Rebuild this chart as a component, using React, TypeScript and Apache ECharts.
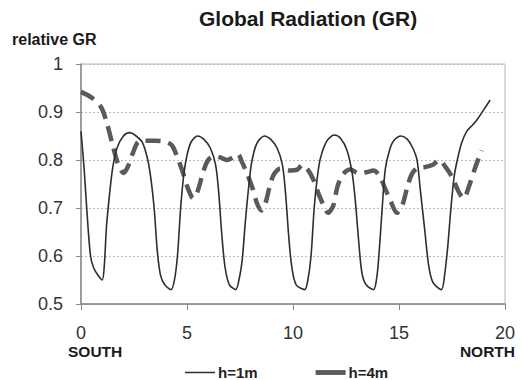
import React, { useEffect, useRef } from "react";
import * as echarts from "echarts";

const titleText = "Global Radiation (GR)";
const yAxisTitle = "relative GR";
const xStartLabel = "SOUTH";
const xEndLabel = "NORTH";
const seriesNames = ["h=1m", "h=4m"];

const h1m: [number, number][] = [
  [0, 0.86], [0.15, 0.78], [0.3, 0.68], [0.45, 0.6], [0.6, 0.575], [0.8, 0.56], [1.0, 0.55],
  [1.1, 0.58], [1.2, 0.66], [1.35, 0.73], [1.5, 0.785], [1.7, 0.825], [2.0, 0.85], [2.3, 0.857],
  [2.6, 0.85], [2.9, 0.836], [3.15, 0.8], [3.3, 0.76], [3.45, 0.7], [3.6, 0.61], [3.75, 0.56],
  [3.95, 0.54], [4.25, 0.53], [4.4, 0.548], [4.55, 0.6], [4.7, 0.7], [4.85, 0.77], [5.0, 0.81],
  [5.2, 0.838], [5.5, 0.85], [5.8, 0.843], [6.1, 0.825], [6.35, 0.79], [6.5, 0.73], [6.65, 0.64],
  [6.8, 0.575], [7.0, 0.54], [7.3, 0.53], [7.45, 0.55], [7.6, 0.59], [7.75, 0.67], [7.9, 0.74],
  [8.05, 0.795], [8.3, 0.835], [8.65, 0.85], [8.95, 0.843], [9.25, 0.825], [9.5, 0.79], [9.65, 0.73],
  [9.8, 0.64], [9.95, 0.575], [10.15, 0.54], [10.55, 0.53], [10.7, 0.55], [10.85, 0.6], [11.0, 0.7],
  [11.15, 0.765], [11.3, 0.805], [11.6, 0.84], [11.95, 0.852], [12.25, 0.845], [12.55, 0.82],
  [12.8, 0.77], [12.95, 0.71], [13.1, 0.63], [13.25, 0.565], [13.45, 0.54], [13.8, 0.53],
  [13.95, 0.555], [14.05, 0.6], [14.2, 0.695], [14.35, 0.78], [14.55, 0.82], [14.75, 0.84],
  [15.1, 0.85], [15.4, 0.843], [15.65, 0.825], [15.85, 0.8], [16.0, 0.74], [16.2, 0.66],
  [16.4, 0.58], [16.6, 0.545], [17.0, 0.53], [17.15, 0.56], [17.3, 0.62], [17.45, 0.7],
  [17.6, 0.765], [17.75, 0.8], [17.95, 0.835], [18.2, 0.86], [18.45, 0.872], [18.7, 0.885],
  [19.0, 0.905], [19.3, 0.925]
];

const h4m: [number, number][] = [
  [0, 0.942], [0.5, 0.93], [0.95, 0.91], [1.2, 0.88], [1.5, 0.83], [1.75, 0.792], [2.0, 0.773],
  [2.2, 0.785], [2.45, 0.815], [2.7, 0.838], [3.0, 0.84], [3.5, 0.84], [4.0, 0.838], [4.3, 0.83],
  [4.55, 0.805], [4.8, 0.775], [5.05, 0.74], [5.3, 0.72], [5.5, 0.735], [5.8, 0.78], [6.0, 0.8],
  [6.3, 0.808], [6.6, 0.805], [6.9, 0.8], [7.15, 0.805], [7.4, 0.812], [7.6, 0.795], [7.85, 0.77],
  [8.1, 0.74], [8.3, 0.71], [8.5, 0.695], [8.7, 0.71], [8.9, 0.745], [9.1, 0.77], [9.4, 0.782],
  [9.8, 0.778], [10.2, 0.78], [10.45, 0.79], [10.7, 0.78], [10.95, 0.76], [11.2, 0.73],
  [11.45, 0.705], [11.65, 0.69], [11.9, 0.705], [12.1, 0.745], [12.35, 0.77], [12.7, 0.78],
  [13.1, 0.772], [13.5, 0.775], [13.8, 0.778], [14.1, 0.765], [14.35, 0.74], [14.6, 0.715],
  [14.9, 0.69], [15.15, 0.705], [15.4, 0.745], [15.6, 0.77], [15.85, 0.783], [16.2, 0.785],
  [16.6, 0.79], [16.9, 0.8], [17.2, 0.785], [17.5, 0.765], [17.8, 0.735], [18.05, 0.72],
  [18.3, 0.745], [18.6, 0.785], [18.9, 0.82]
];

const xMin = 0, xMax = 20, xStep = 5;
const yMin = 0.5, yMax = 1, yStep = 0.1;

export default function App() {
  const ref = useRef<HTMLDivElement>(null);
  useEffect(() => {
    if (!ref.current) return;
    const chart = echarts.init(ref.current, undefined, { renderer: "svg" });
    const font = "Arial, 'Liberation Sans', sans-serif";
    chart.setOption({
      animation: false,
      backgroundColor: "#ffffff",
      title: {
        text: titleText,
        left: 199,
        top: 8,
        padding: 0,
        textStyle: { fontFamily: font, fontSize: 21, fontWeight: "bold", color: "#1a1a1a" },
      },
      legend: {
        left: 185,
        top: 365,
        padding: 0,
        itemWidth: 30,
        itemHeight: 14,
        itemGap: 58,
        symbolKeepAspect: true,
        textStyle: { fontFamily: font, fontSize: 15, color: "#222", fontWeight: "bold", padding: [0, 0, 0, -2] },
        data: [
          { name: seriesNames[0], icon: "path://M0,0L60,0L60,3L0,3Z" },
          { name: seriesNames[1], icon: "path://M0,0L28,0L28,4.5L0,4.5Z" },
        ],
      },
      grid: { left: 81, right: 18, top: 64, bottom: 76, containLabel: false, show: true, borderColor: "#b5b5b5", borderWidth: 1 },
      xAxis: {
        type: "value",
        min: xMin,
        max: xMax,
        interval: xStep,
        axisLine: { show: true, lineStyle: { color: "#888", width: 1.5 } },
        axisTick: { show: true, length: 6, lineStyle: { color: "#888" } },
        splitLine: { show: false },
        axisLabel: { fontFamily: font, fontSize: 18, color: "#333", margin: 20 },
      },
      yAxis: {
        type: "value",
        min: yMin,
        max: yMax,
        interval: yStep,
        axisLine: { show: true, lineStyle: { color: "#888", width: 1.5 } },
        axisTick: { show: true, length: 5, lineStyle: { color: "#888" } },
        splitLine: { show: true, lineStyle: { color: "#bdbdbd", type: [2, 2], width: 1 } },
        axisLabel: { fontFamily: font, fontSize: 18, color: "#333", margin: 18 },
      },
      graphic: [
        { type: "text", left: 12, top: 31, style: { text: yAxisTitle, font: `bold 16px ${font}`, fill: "#1a1a1a" } },
        { type: "text", left: 68, top: 343, style: { text: xStartLabel, font: `bold 15.5px ${font}`, fill: "#1a1a1a" } },
        { type: "text", right: 8, top: 343, style: { text: xEndLabel, font: `bold 15.5px ${font}`, fill: "#1a1a1a" } },
      ],
      series: [
        {
          name: seriesNames[0],
          type: "line",
          data: h1m,
          symbol: "none",
          smooth: 0.3,
          lineStyle: { color: "#2e2e2e", width: 1.6 },
          itemStyle: { color: "#2e2e2e" },
          z: 3,
        },
        {
          name: seriesNames[1],
          type: "line",
          data: h4m,
          symbol: "none",
          smooth: 0.3,
          lineStyle: { color: "#5a5a5a", width: 4.5, type: [15, 8], cap: "butt" },
          itemStyle: { color: "#5a5a5a" },
          z: 2,
        },
      ],
    });
    return () => chart.dispose();
  }, []);
  return <div ref={ref} style={{ position: "fixed", left: 0, top: 0, width: 523, height: 380 }} />;
}
